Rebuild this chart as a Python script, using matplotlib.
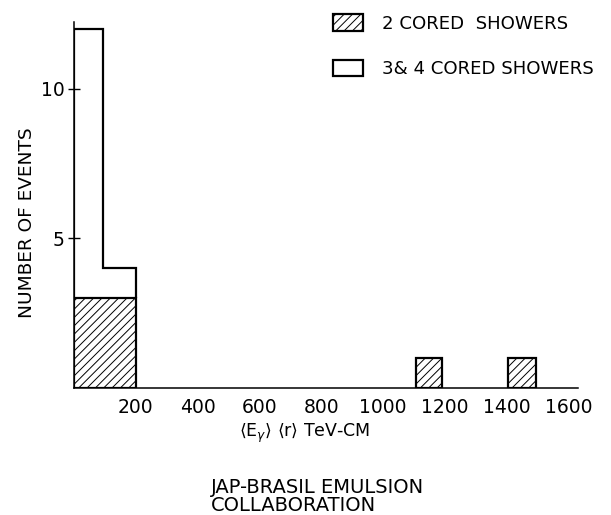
import matplotlib
matplotlib.use("Agg")
import matplotlib.pyplot as plt
from matplotlib.patches import Patch

# ---- data ----
total_edges = [0, 95, 200]          # bins for all showers (2 + 3&4 cored)
total_counts = [12, 4]              # total number of events per bin
two_cored_left = [0, 1105, 1405]    # 2-cored bins (left edges)
two_cored_right = [200, 1190, 1495] # 2-cored bins (right edges)
two_cored_counts = [3, 1, 1]
xtick_values = [200, 400, 600, 800, 1000, 1200, 1400, 1600]
xtick_marks = [400, 600, 800, 1000]
ytick_values = [5, 10]
legend_labels = ["2 CORED  SHOWERS", "3& 4 CORED SHOWERS"]

FONT = ["DejaVu Sans"]
plt.rcParams['font.family'] = FONT
plt.rcParams['hatch.linewidth'] = 0.7
plt.rcParams['mathtext.fontset'] = 'dejavusans'

W, H = 611, 515
fig = plt.figure(figsize=(W / 100, H / 100), dpi=100)
x0, x1 = 73.9, 578.0
ytop, ybot = 21.7, 388.0
ax = fig.add_axes([x0 / W, 1 - ybot / H, (x1 - x0) / W, (ybot - ytop) / H])

# 2-cored showers: hatched bars
widths = [r - l for l, r in zip(two_cored_left, two_cored_right)]
ax.bar(two_cored_left, two_cored_counts, width=widths, align='edge',
       facecolor='white', edgecolor='black', hatch='////', linewidth=1.6,
       zorder=2)
# 3&4 cored showers: open outline on top
ax.stairs(total_counts, total_edges, baseline=two_cored_counts[0],
          fill=False, color='black', linewidth=1.6, zorder=3)

ax.set_xlim(0, 1630)
ax.set_ylim(0, 12.25)

for s in ['top', 'right']:
    ax.spines[s].set_visible(False)
for s in ['left', 'bottom']:
    ax.spines[s].set_linewidth(1.1)

ax.set_xticks(xtick_values)
ax.set_xticklabels([str(v) for v in xtick_values], fontsize=13.5)
ax.set_xticks(xtick_marks, minor=True)
ax.tick_params(axis='x', which='major', length=0, pad=7)
ax.tick_params(axis='x', which='minor', direction='in', length=5, width=1.0)
ax.set_yticks(ytick_values)
ax.set_yticklabels([str(v) for v in ytick_values], fontsize=13.5)
ax.tick_params(axis='y', which='major', direction='inout', length=9, width=1.0,
               pad=2)

ax.set_xlabel(r'$\langle\mathrm{E}_{\gamma}\rangle\ \langle\mathrm{r}\rangle$ TeV-CM',
              fontsize=12.5)
ax.xaxis.label.set_va('center')
ax.xaxis.set_label_coords((304.8 - x0) / (x1 - x0), (ybot - 433.3) / (ybot - ytop))

ax.set_ylabel('NUMBER OF EVENTS', fontsize=13.3)
ax.yaxis.label.set_va('center')
ax.yaxis.set_label_coords((27 - x0) / (x1 - x0), (ybot - 223) / (ybot - ytop))

handles = [Patch(facecolor='white', edgecolor='black', hatch='////', linewidth=1.6),
           Patch(facecolor='white', edgecolor='black', linewidth=1.6)]
leg = fig.legend(handles, legend_labels, loc='upper left',
                 bbox_to_anchor=(317 / W, 1 + 2 / H), frameon=False,
                 fontsize=13.1, handlelength=1.65, handleheight=1.0,
                 handletextpad=1.0, labelspacing=1.5)

fig.text(211 / W, 1 - 496.5 / H, 'JAP-BRASIL EMULSION\nCOLLABORATION',
         ha='left', va='center', fontsize=14, linespacing=0.95)

fig.savefig('out.png', dpi=100)
